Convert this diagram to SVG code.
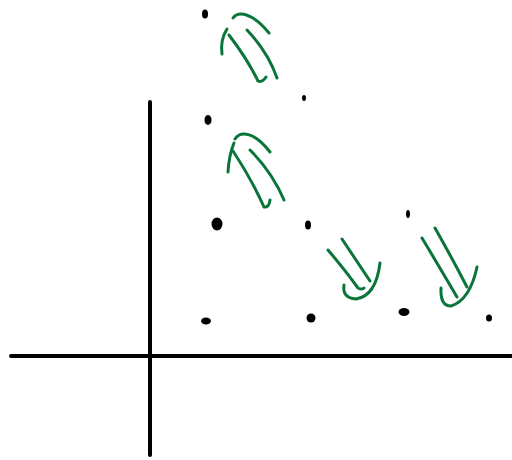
<svg xmlns="http://www.w3.org/2000/svg" width="512" height="460" viewBox="0 0 512 460">
<style>
.ax{stroke:#000;stroke-width:4;stroke-linecap:round;fill:none}
.g{stroke:#097539;stroke-width:3;stroke-linecap:round;fill:none}
.d{fill:#000}
</style>
<rect width="512" height="460" fill="#fff"/>
<g id="axes">
<path class="ax" d="M150 102 L150 455"/>
<path class="ax" d="M11 356 L511 356"/>
</g>
<g id="dots">
<ellipse class="d" cx="205" cy="14" rx="3" ry="4.5"/>
<ellipse class="d" cx="304" cy="98" rx="2" ry="3"/>
<ellipse class="d" cx="208" cy="120" rx="3.5" ry="5"/>
<ellipse class="d" cx="217" cy="224" rx="5.5" ry="6.5"/>
<ellipse class="d" cx="308" cy="225" rx="3" ry="4.5"/>
<ellipse class="d" cx="408" cy="214" rx="2" ry="4"/>
<ellipse class="d" cx="206" cy="321" rx="5" ry="3.5"/>
<ellipse class="d" cx="311" cy="318" rx="4.5" ry="4.5"/>
<ellipse class="d" cx="404" cy="312" rx="5.5" ry="4"/>
<ellipse class="d" cx="489" cy="318" rx="3" ry="3.5"/>
</g>
<g id="arrows">
<g id="arrow1">
<path class="g" d="M227 29 Q220 40 222 54"/>
<path class="g" d="M233 18 C238 11 252 12 269 33"/>
<path class="g" d="M229 35 Q248 60 258 81 Q262 83 266 77"/>
<path class="g" d="M247 30 Q268 52 277 78"/>
</g>
<g id="arrow2">
<path class="g" d="M234 143 Q229 155 228 172"/>
<path class="g" d="M235 139 C240 131 254 131 270 152"/>
<path class="g" d="M233 151 Q252 180 264 207 Q269 208 270 200"/>
<path class="g" d="M250 150 Q272 172 284 200"/>
</g>
<g id="arrow3">
<path class="g" d="M328 250 Q345 270 358 288 Q362 290 364 288"/>
<path class="g" d="M342 239 Q356 260 370 281"/>
<path class="g" d="M344 285 Q342 298 356 299 Q376 296 380 263"/>
</g>
<g id="arrow4">
<path class="g" d="M422 238 Q440 268 457 297"/>
<path class="g" d="M435 228 Q452 258 467 287"/>
<path class="g" d="M441 288 Q440 306 451 306 Q470 300 477 267"/>
</g>
</g>
</svg>
